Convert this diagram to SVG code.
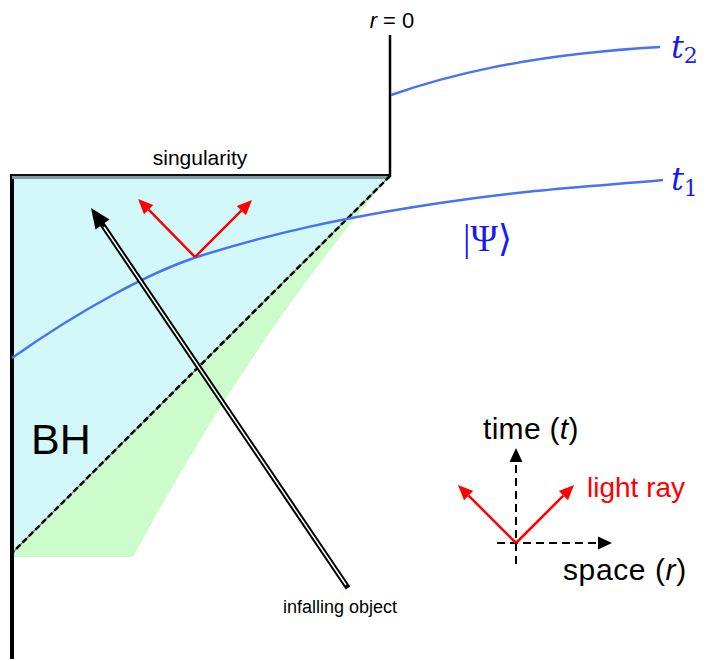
<svg xmlns="http://www.w3.org/2000/svg" width="708" height="661" viewBox="0 0 708 661">
<style>
.sans{font-family:"Liberation Sans",Arial,sans-serif;}
.math{font-family:"DejaVu Serif","Liberation Serif",serif;fill:#1a1af0;}
.blue{fill:none;stroke:#4673f2;stroke-width:2.5;}
.red{stroke:#ff0000;stroke-width:2.5;fill:none;}
.dash{stroke:#000;stroke-width:2;stroke-dasharray:8 5;fill:none;}
</style>
<defs>
<marker id="ar" markerUnits="userSpaceOnUse" markerWidth="16" markerHeight="14" refX="0" refY="6.5" orient="auto" overflow="visible">
<path d="M0,0 L15,6.5 L0,13 Z" fill="#ff0000"/>
</marker>
</defs>

<g id="regions">
<path d="M12,553 L388,178 Q250,340 133,557 L14,557 Z" fill="#ccfbcc"/>
<path d="M12,176 L390,176 L12,553 Z" fill="#d2f8fa"/>
</g>

<g id="spacetime">
<line x1="12" y1="174" x2="12" y2="659" stroke="#000" stroke-width="4"/>
<rect x="12" y="176" width="378" height="3" fill="#7f9c9e"/>
<line x1="12" y1="175" x2="390" y2="175" stroke="#111" stroke-width="2"/>
<line x1="390" y1="35" x2="390" y2="177" stroke="#000" stroke-width="2.5"/>
<line x1="390" y1="176" x2="12" y2="553" stroke="#777" stroke-width="1.2"/>
<line x1="390" y1="176" x2="12" y2="553" stroke="#000" stroke-width="2.5" stroke-dasharray="6 3"/>
</g>

<g id="slices">
<path class="blue" d="M12,358 C80,310 150,272 200,256 C270,234 340,218 440,203 S600,186 663,180"/>
<path class="blue" d="M391,95 C440,78 520,55 660,47"/>
</g>

<g id="connectors">
<line x1="348" y1="588" x2="102" y2="224" stroke="#000" stroke-width="5.5"/>
<line x1="346" y1="585" x2="104" y2="227" stroke="#fff" stroke-width="1.5"/>
<polygon points="91,208 109.5,219.5 95.5,229.5" fill="#000"/>
<line class="red" x1="195" y1="257" x2="148.6" y2="209.6" marker-end="url(#ar)"/>
<line class="red" x1="195" y1="257" x2="241.4" y2="210.6" marker-end="url(#ar)"/>
</g>

<g id="legend">
<line class="dash" x1="516" y1="564" x2="516" y2="462"/>
<path d="M509.5,462 L516,448 L522.5,462 Z" fill="#000"/>
<line class="dash" x1="497" y1="543" x2="598" y2="543"/>
<path d="M598,536.5 L612,543 L598,549.5 Z" fill="#000"/>
<line class="red" x1="516" y1="543" x2="468.6" y2="495.6" marker-end="url(#ar)"/>
<line class="red" x1="516" y1="543" x2="563.4" y2="495.6" marker-end="url(#ar)"/>
<text class="sans" x="483" y="439" font-size="30" letter-spacing="0.3">time (<tspan font-style="italic">t</tspan>)</text>
<text class="sans" x="587" y="497" font-size="28" fill="#ff0000">light ray</text>
<text class="sans" x="563" y="580" font-size="30" letter-spacing="0.6">space (<tspan font-style="italic">r</tspan>)</text>
</g>

<g id="labels">
<text class="sans" x="392" y="28" font-size="22" text-anchor="middle"><tspan font-style="italic">r</tspan> = 0</text>
<text class="sans" x="200" y="165" font-size="21" text-anchor="middle">singularity</text>
<text class="sans" x="31" y="454" font-size="43">BH</text>
<text class="sans" x="340" y="613" font-size="18" text-anchor="middle">infalling object</text>
<text class="math" x="671" y="58" font-size="32" font-style="italic">t<tspan font-style="normal" font-size="22" dy="5">2</tspan></text>
<text class="math" x="671" y="190" font-size="32" font-style="italic">t<tspan font-style="normal" font-size="22" dy="6">1</tspan></text>
<text class="math" x="463" y="251" font-size="37"><tspan font-family="Liberation Serif">|Ψ</tspan>⟩</text>
</g>
</svg>
